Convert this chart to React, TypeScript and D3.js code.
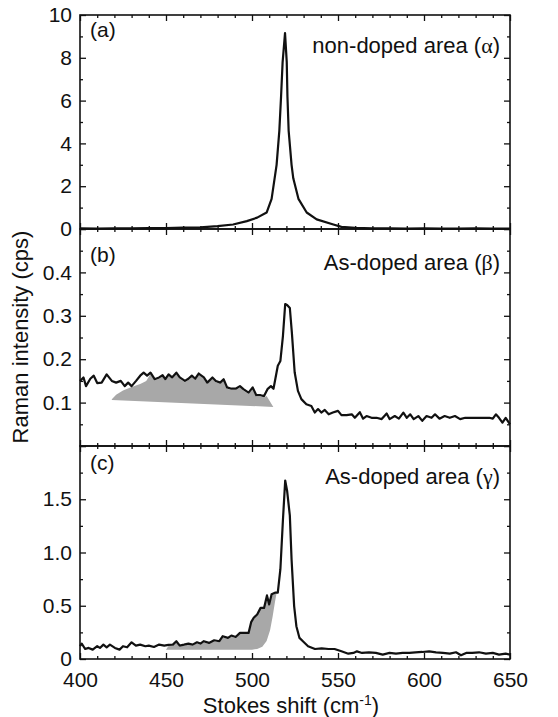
import React, { Component } from 'react'
import * as d3 from 'd3'

// (a) non-doped area
const shiftA = [400, 410, 420, 430, 440, 450, 460, 470, 480, 489, 497, 503, 508.5, 511.4, 514.3, 515.9, 516.9, 517.8, 519.2, 520.2, 520.6, 521.3, 523, 524, 527, 531.8, 537.6, 547.3, 552, 560, 570, 580, 590, 600, 610, 620, 630, 640, 650]
const intensityA = [0.03, 0.02, 0.03, 0.03, 0.04, 0.04, 0.06, 0.08, 0.13, 0.21, 0.37, 0.53, 0.77, 1.41, 3.0, 4.6, 6.2, 7.8, 9.15, 7.8, 6.2, 4.6, 3.0, 2.37, 1.41, 0.77, 0.45, 0.21, 0.1, 0.05, 0.03, 0.03, 0.02, 0.03, 0.02, 0.02, 0.03, 0.02, 0.02]

// (b) As-doped area
const shiftB = [400, 402, 403.5, 406, 408, 410, 412.6, 415.5, 418.5, 421, 423.7, 426, 428, 430, 432.6, 435, 437, 439, 441, 443.4, 446, 448, 449.6, 451.5, 453.5, 456, 458, 461, 463, 465, 467, 469, 472, 474, 477, 479, 481.5, 483.5, 485.5, 488, 490.5, 493, 495, 498, 500.4, 502.5, 505, 507, 509, 511, 512.5, 515, 516.5, 518, 519.3, 520.4, 522, 523.2, 524.8, 526.7, 528.7, 531.6, 534.5, 536.5, 538.4, 540.3, 542.3, 544.6, 547, 550, 552, 555, 558, 559.8, 562.7, 564.6, 566.6, 569.5, 572.4, 575.4, 578.3, 580, 583, 585.4, 588, 590, 592, 594, 596.7, 599, 601.5, 604.4, 606.4, 609, 612, 615, 618, 621, 624, 627, 630, 634, 638, 640, 641.8, 643.6, 645.6, 647.5, 650]
const intensityB = [0.150, 0.158, 0.138, 0.155, 0.162, 0.145, 0.146, 0.165, 0.150, 0.146, 0.150, 0.138, 0.146, 0.138, 0.150, 0.162, 0.169, 0.162, 0.169, 0.154, 0.158, 0.163, 0.154, 0.165, 0.158, 0.169, 0.158, 0.150, 0.155, 0.162, 0.155, 0.167, 0.158, 0.146, 0.158, 0.150, 0.146, 0.154, 0.135, 0.132, 0.132, 0.138, 0.131, 0.123, 0.135, 0.117, 0.117, 0.115, 0.131, 0.138, 0.132, 0.185, 0.196, 0.254, 0.327, 0.325, 0.318, 0.26, 0.17, 0.127, 0.108, 0.096, 0.092, 0.077, 0.085, 0.077, 0.083, 0.073, 0.077, 0.081, 0.071, 0.071, 0.073, 0.065, 0.078, 0.063, 0.069, 0.065, 0.065, 0.062, 0.075, 0.062, 0.069, 0.063, 0.077, 0.065, 0.073, 0.062, 0.069, 0.058, 0.069, 0.065, 0.073, 0.063, 0.069, 0.065, 0.069, 0.062, 0.065, 0.065, 0.065, 0.065, 0.065, 0.063, 0.073, 0.065, 0.054, 0.065, 0.050]

// (c) As-doped area
const shiftC = [400, 401, 403, 405, 407.4, 410, 411.6, 413.6, 415.5, 417.4, 420.3, 423, 425, 427.4, 430, 432.5, 435, 438, 440, 443, 446, 449, 451.4, 454, 456, 458, 460.5, 463, 465.5, 468, 470, 472, 475, 478, 481, 483, 486, 488, 490.5, 493, 495, 498, 499.5, 501, 503, 505, 507, 508.7, 510, 511.4, 513.4, 515, 516.5, 518, 519.3, 520.4, 522, 523, 524.5, 525.8, 527.6, 529.6, 532.6, 536.6, 540.5, 544.5, 548, 552, 556, 559, 561, 564, 568, 572, 576, 580, 583.7, 587.6, 591.5, 595, 599, 603, 607, 611, 615, 618.6, 621.5, 624.5, 628, 632, 636, 640, 643.6, 647.5, 650]
const intensityC = [0.12, 0.145, 0.094, 0.104, 0.088, 0.12, 0.104, 0.135, 0.11, 0.135, 0.104, 0.088, 0.12, 0.11, 0.157, 0.126, 0.135, 0.12, 0.126, 0.113, 0.135, 0.126, 0.132, 0.135, 0.167, 0.126, 0.135, 0.145, 0.135, 0.157, 0.145, 0.167, 0.151, 0.176, 0.167, 0.214, 0.198, 0.22, 0.207, 0.245, 0.245, 0.245, 0.346, 0.387, 0.418, 0.48, 0.48, 0.597, 0.513, 0.607, 0.623, 0.623, 0.843, 1.31, 1.676, 1.58, 1.346, 0.937, 0.497, 0.308, 0.198, 0.167, 0.12, 0.094, 0.1, 0.094, 0.094, 0.072, 0.05, 0.057, 0.072, 0.057, 0.063, 0.057, 0.041, 0.057, 0.05, 0.057, 0.057, 0.063, 0.066, 0.072, 0.063, 0.057, 0.05, 0.063, 0.035, 0.057, 0.057, 0.063, 0.05, 0.057, 0.041, 0.05, 0.041]

// grey shaded regions: leading/trailing edges, the middle follows the spectrum
const shadeBLeadShift = [418.5, 421, 425, 430, 435, 438.5]
const shadeBLeadValue = [0.108, 0.118, 0.128, 0.136, 0.143, 0.150]
const shadeBRange = [440, 507]
const shadeBTailShift = [508.5, 512.4, 418.5]
const shadeBTailValue = [0.115, 0.090, 0.106]

const shadeCRange = [450, 514]
const shadeCTailShift = [514.3, 513.4, 512, 510.5, 508.5, 506, 503, 500, 450]
const shadeCTailValue = [0.62, 0.54, 0.40, 0.27, 0.17, 0.115, 0.095, 0.088, 0.088]

const xTicks = [400, 450, 500, 550, 600, 650]
const panelLabels = ['(a)', '(b)', '(c)']
const areaNames = ['non-doped area', 'As-doped area', 'As-doped area']
const areaGreek = ['\u03b1', '\u03b2', '\u03b3']
const yDomains = [[0, 10], [0, 0.5], [0, 2]]
const yMajor = [[0, 2, 4, 6, 8, 10], [0, 0.1, 0.2, 0.3, 0.4, 0.5], [0, 0.5, 1, 1.5, 2]]
const yMinor = [[1, 3, 5, 7, 9], [0.05, 0.15, 0.25, 0.35, 0.45], [0.25, 0.75, 1.25, 1.75]]
const yLabelled = [[0, 2, 4, 6, 8, 10], [0.1, 0.2, 0.3, 0.4], [0, 0.5, 1, 1.5]]

const FONT = 'Liberation Sans, Arial, sans-serif'
const INK = '#111'
const SHADE = '#a8a8a8'

export default class App extends Component {
	constructor (props) {
		super(props)
		this.width = 558
		this.height = 717
		this.left = 80
		this.right = 510
		this.tops = [15, 229, 446]
		this.bottoms = [229, 446, 659]
	}

	componentDidMount () {
		d3.select(this.container).selectAll('*').remove()

		const svg = d3.select(this.container)
			.append('svg')
				.attr('width', this.width)
				.attr('height', this.height)
				.style('position', 'absolute')
				.style('left', 0)
				.style('top', 0)
				.style('background', '#fff')
				.style('font-family', FONT)

		const x = d3.scaleLinear().domain([400, 650]).range([this.left, this.right])
		const xMinor = d3.range(410, 650, 10).filter(d => d % 50 !== 0)

		const series = [
			{ s: shiftA, v: intensityA },
			{ s: shiftB, v: intensityB },
			{ s: shiftC, v: intensityC }
		]

		series.forEach((ser, i) => {
			const top = this.tops[i]
			const bottom = this.bottoms[i]
			const y = d3.scaleLinear().domain(yDomains[i]).range([bottom, top])
			const g = svg.append('g')
			const pts = ser.s.map((d, k) => [d, ser.v[k]])
			const line = d3.line().x(d => x(d[0])).y(d => y(d[1]))

			// grey shading
			let poly = null
			if (i === 1) {
				poly = shadeBLeadShift.map((d, k) => [d, shadeBLeadValue[k]])
					.concat(pts.filter(d => d[0] >= shadeBRange[0] && d[0] <= shadeBRange[1]).map(d => [d[0], d[1] - 0.003]))
					.concat(shadeBTailShift.map((d, k) => [d, shadeBTailValue[k]]))
			}
			if (i === 2) {
				poly = pts.filter(d => d[0] >= shadeCRange[0] && d[0] <= shadeCRange[1]).map(d => [d[0], d[1] - 0.01])
					.concat(shadeCTailShift.map((d, k) => [d, shadeCTailValue[k]]))
			}
			if (poly) {
				g.append('path')
					.attr('d', line(poly) + 'Z')
					.attr('fill', SHADE)
					.attr('stroke', 'none')
			}

			// spectrum
			g.append('path')
				.attr('d', line(pts))
				.attr('fill', 'none')
				.attr('stroke', INK)
				.attr('stroke-width', 2.2)
				.attr('stroke-linejoin', 'round')

			const fmt = d => {
				if (!yLabelled[i].includes(d)) return ''
				if (d === 0) return '0'
				return i === 0 ? d3.format('d')(d) : d3.format('.1f')(d)
			}

			// y ticks, left + right, pointing inward
			g.append('g')
				.attr('transform', `translate(${this.left},0)`)
				.call(d3.axisLeft(y).tickValues(yMajor[i]).tickSize(-6).tickSizeOuter(0).tickPadding(8).tickFormat(fmt))
			g.append('g')
				.attr('transform', `translate(${this.left},0)`)
				.call(d3.axisLeft(y).tickValues(yMinor[i]).tickSize(-3).tickSizeOuter(0).tickFormat(() => ''))
			g.append('g')
				.attr('transform', `translate(${this.right},0)`)
				.call(d3.axisRight(y).tickValues(yMajor[i]).tickSize(-6).tickSizeOuter(0).tickFormat(() => ''))
			g.append('g')
				.attr('transform', `translate(${this.right},0)`)
				.call(d3.axisRight(y).tickValues(yMinor[i]).tickSize(-3).tickSizeOuter(0).tickFormat(() => ''))

			// x ticks, top + bottom, pointing inward
			g.append('g')
				.attr('transform', `translate(0,${bottom})`)
				.call(d3.axisBottom(x).tickValues(xTicks).tickSize(-6).tickSizeOuter(0).tickPadding(13)
					.tickFormat(d => i === 2 ? String(d) : ''))
			g.append('g')
				.attr('transform', `translate(0,${bottom})`)
				.call(d3.axisBottom(x).tickValues(xMinor).tickSize(-3).tickSizeOuter(0).tickFormat(() => ''))
			g.append('g')
				.attr('transform', `translate(0,${top})`)
				.call(d3.axisTop(x).tickValues(xTicks).tickSize(-6).tickSizeOuter(0).tickFormat(() => ''))
			g.append('g')
				.attr('transform', `translate(0,${top})`)
				.call(d3.axisTop(x).tickValues(xMinor).tickSize(-3).tickSizeOuter(0).tickFormat(() => ''))

			// frame
			g.append('rect')
				.attr('x', this.left)
				.attr('y', top)
				.attr('width', this.right - this.left)
				.attr('height', bottom - top)
				.attr('fill', 'none')
				.attr('stroke', INK)
				.attr('stroke-width', 1.6)

			g.append('text')
				.attr('x', this.left + 10)
				.attr('y', top + [22, 33, 24][i])
				.attr('fill', INK)
				.style('font-size', '21px')
				.text(panelLabels[i])

			const lab = g.append('text')
				.attr('x', this.right - 10)
				.attr('y', top + [38, 41, 38][i])
				.attr('text-anchor', 'end')
				.attr('fill', INK)
				.style('font-size', '22px')
			lab.append('tspan').text(areaNames[i] + ' (')
			lab.append('tspan').style('font-family', 'Liberation Serif, DejaVu Serif, serif').text(areaGreek[i])
			lab.append('tspan').text(')')
		})

		svg.selectAll('.domain').remove()
		svg.selectAll('.tick line').attr('stroke', INK).attr('stroke-width', 1.3)
		svg.selectAll('.tick text').attr('fill', INK).style('font-size', '21px').style('font-family', FONT)

		svg.append('text')
			.attr('transform', 'translate(28,337) rotate(-90)')
			.attr('text-anchor', 'middle')
			.attr('fill', INK)
			.style('font-size', '22px')
			.text('Raman intensity (cps)')

		const xt = svg.append('text')
			.attr('x', 291)
			.attr('y', 713)
			.attr('text-anchor', 'middle')
			.attr('fill', INK)
			.style('font-size', '22px')
		xt.append('tspan').text('Stokes shift (cm')
		xt.append('tspan').attr('dy', -8).style('font-size', '14px').text('-1')
		xt.append('tspan').attr('dy', 8).text(')')
	}

	render () {
		return (
			<div ref={ container => this.container = container }></div>
		)
	}
}
